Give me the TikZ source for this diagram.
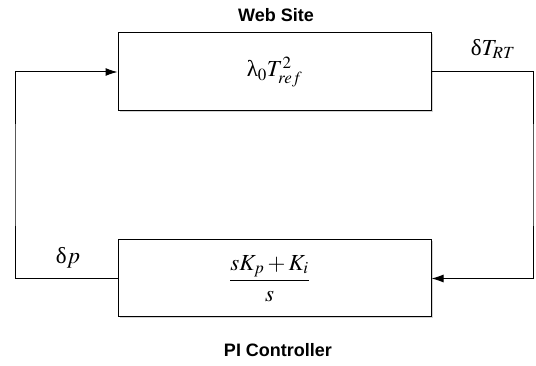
\documentclass[tikz,border=0pt]{standalone}
\usepackage{amsmath}
\usepackage{mathptmx}
\usepackage{fontspec}
\setmainfont{Liberation Serif}
\newfontfamily\headfont{Liberation Sans}
\usetikzlibrary{arrows.meta,positioning,shadows}

\begin{document}
\begin{tikzpicture}[x=1pt,y=-1pt,
    every node/.style={font=\fontsize{23}{27}\selectfont},
    box/.style={draw,line width=1pt,fill=white,minimum width=313pt,inner sep=0pt,
                drop shadow={opacity=0.35,shadow xshift=1.5pt,shadow yshift=-1.5pt}},
    head/.style={font=\headfont\bfseries\fontsize{18}{22}\selectfont},
    conn/.style={line width=1pt,-{Latex[length=12pt,width=8pt]}}
]
\useasboundingbox (0,0) rectangle (536,366);
\node[box,minimum height=78pt] (site) at (274.5,72) {\raisebox{-4pt}{$\mbox{λ}_0T^2_{ref}$}};
\node[box,minimum height=77pt] (pi) at (274.5,278.5) {\raisebox{-5pt}{$\dfrac{sK_p+K_i}{s}$}\hspace*{10pt}};
\node[head] (sitelbl) at (276,15) {Web Site};
\node[head] (pilbl) at (278,350) {PI Controller};
\node (drt) at (493,49) {$\mbox{δ}T_{RT}$};
\node (dp) at (68,258) {$\mbox{δ}p$};
% feedback loop
\coordinate (rt) at (533,175);
\coordinate (lt) at (15,175);
\draw[conn] (site.east) -| (rt) |- (pi.east);
\draw[conn] (pi.west) -| (lt) |- (site.west);
\end{tikzpicture}
\end{document}
